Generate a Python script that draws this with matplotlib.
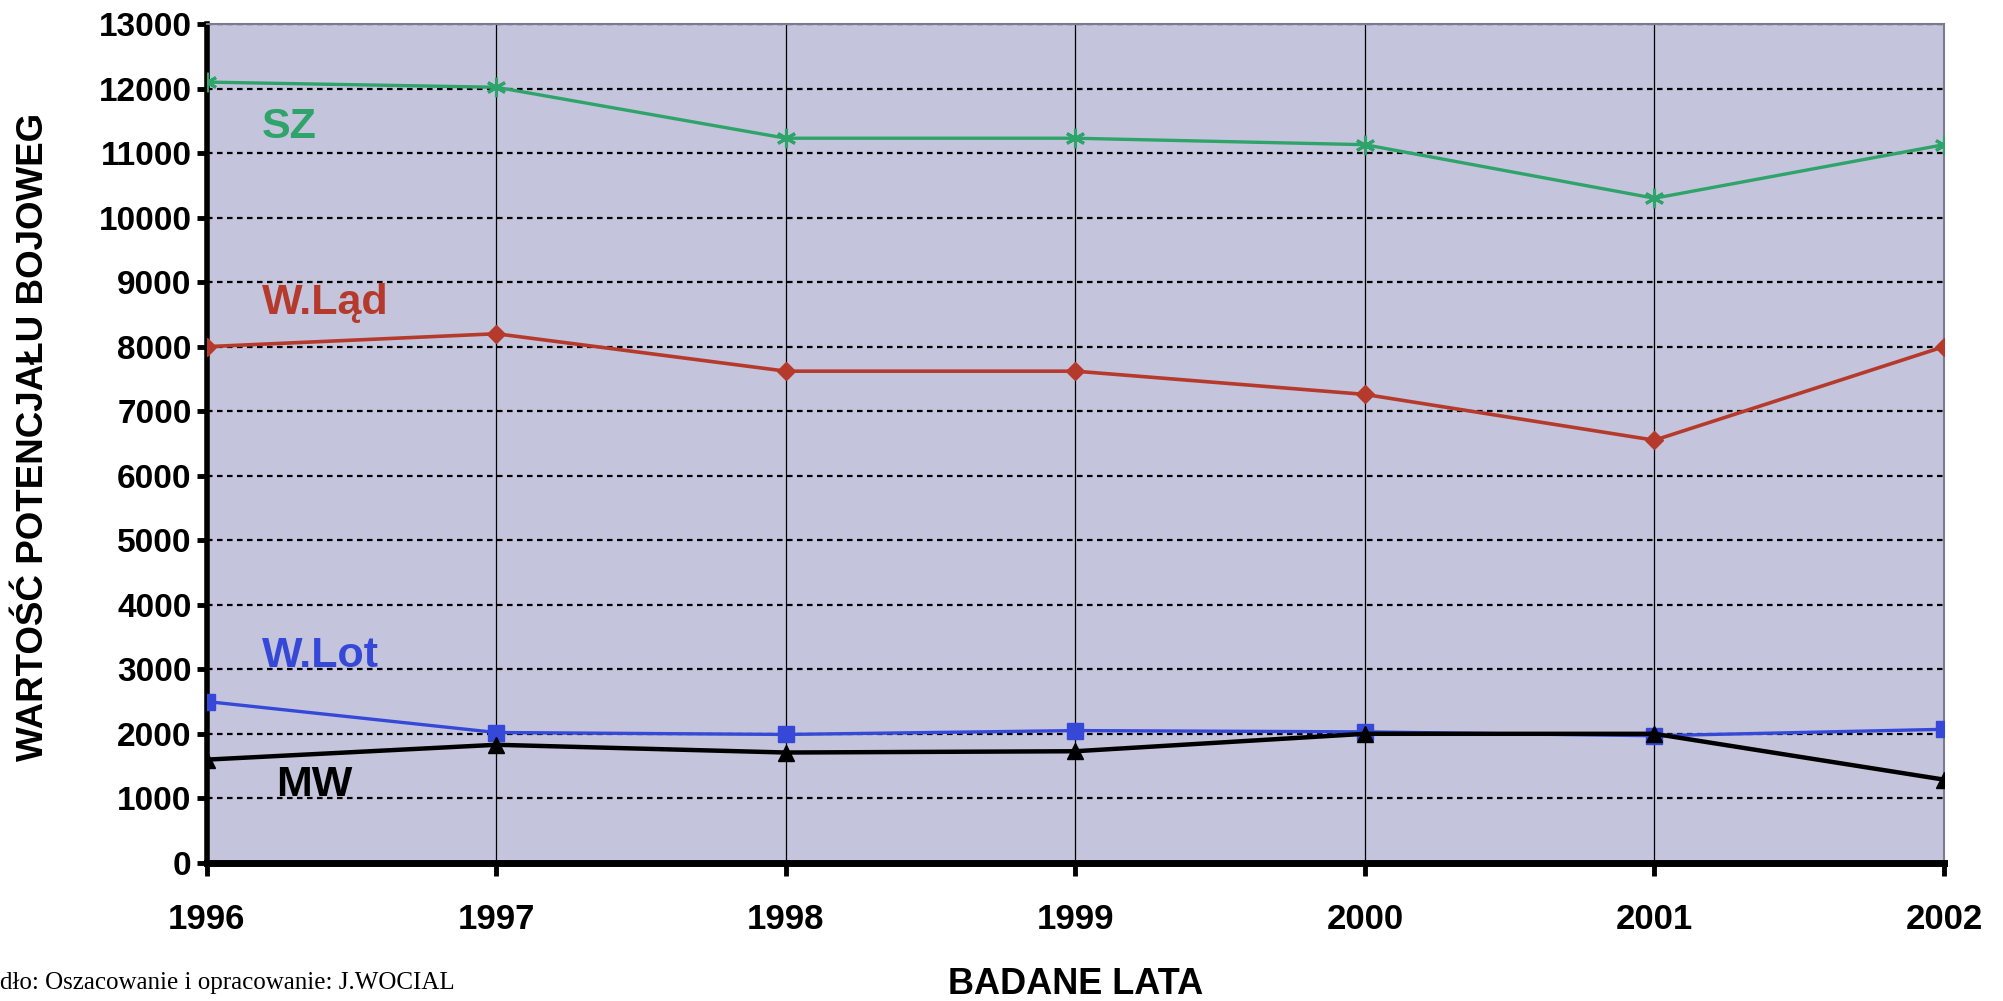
import matplotlib
matplotlib.use('Agg')
import matplotlib.pyplot as plt
import numpy as np

years = [1996, 1997, 1998, 1999, 2000, 2001, 2002]
sz = [12100, 12020, 11230, 11230, 11130, 10300, 11130]
w_lad = [8000, 8200, 7620, 7620, 7260, 6550, 8000]
w_lot = [2500, 2020, 1990, 2050, 2030, 1970, 2070]
mw = [1600, 1830, 1710, 1730, 2000, 2000, 1290]

y_ticks = list(range(0, 14000, 1000))

plt.rcParams['font.family'] = ['Liberation Sans', 'DejaVu Sans']

fig = plt.figure(figsize=(20.03, 10.01), dpi=100)
ax = fig.add_axes([0.1033, 0.138, 0.8672, 0.838])
ax.set_facecolor('#c4c4dc')

ax.plot(years, sz, color='#2ea36a', lw=2.4, marker=(6, 2, 0), ms=14, mew=2.2, zorder=4)
ax.plot(years, w_lad, color='#b53a2c', lw=2.6, marker='D', ms=9, zorder=4)
ax.plot(years, w_lot, color='#3548d8', lw=2.4, marker='s', ms=11, zorder=4)
ax.plot(years, mw, color='black', lw=3.2, marker='^', ms=12, zorder=5)

ax.set_xlim(1996, 2002)
ax.set_ylim(0, 13000)
ax.set_xticks(years)
ax.set_yticks(y_ticks)
ax.set_xticklabels([str(y) for y in years], fontsize=25, fontweight='bold')
ax.set_yticklabels([str(v) for v in y_ticks], fontsize=24, fontweight='bold')

ax.grid(axis='y', color='black', linestyle=(0, (2.5, 2)), lw=1.6, zorder=1)
ax.grid(axis='x', color='black', linestyle='-', lw=0.9, zorder=1)

for side in ['top', 'right']:
    ax.spines[side].set_color('#7a7a90')
    ax.spines[side].set_linewidth(1.5)
ax.spines['left'].set_linewidth(4)
ax.spines['bottom'].set_linewidth(5)
ax.tick_params(axis='y', direction='out', length=7, width=3.5, pad=4)
ax.tick_params(axis='x', direction='out', length=9, width=3.5, pad=20)

ax.set_ylabel('WARTOŚĆ POTENCJAŁU BOJOWEG', fontsize=26.5, fontweight='bold')
ax.yaxis.set_label_coords(-0.09, 0.508)
ax.set_xlabel('BADANE LATA', fontsize=26, fontweight='bold', labelpad=22)

ax.text(1996.19, 11400, 'SZ', color='#2ea36a', fontsize=31, fontweight='bold', va='center')
ax.text(1996.19, 8680, 'W.Ląd', color='#b53a2c', fontsize=31, fontweight='bold', va='center')
ax.text(1996.19, 3200, 'W.Lot', color='#3548d8', fontsize=31, fontweight='bold', va='center')
ax.text(1996.24, 1200, 'MW', color='black', fontsize=31, fontweight='bold', va='center')

fig.text(0.0, 0.018, 'dło: Oszacowanie i opracowanie: J.WOCIAL', fontsize=18,
         family=['Liberation Serif', 'DejaVu Serif'], ha='left', va='center')

fig.savefig('out.png', dpi=100)
